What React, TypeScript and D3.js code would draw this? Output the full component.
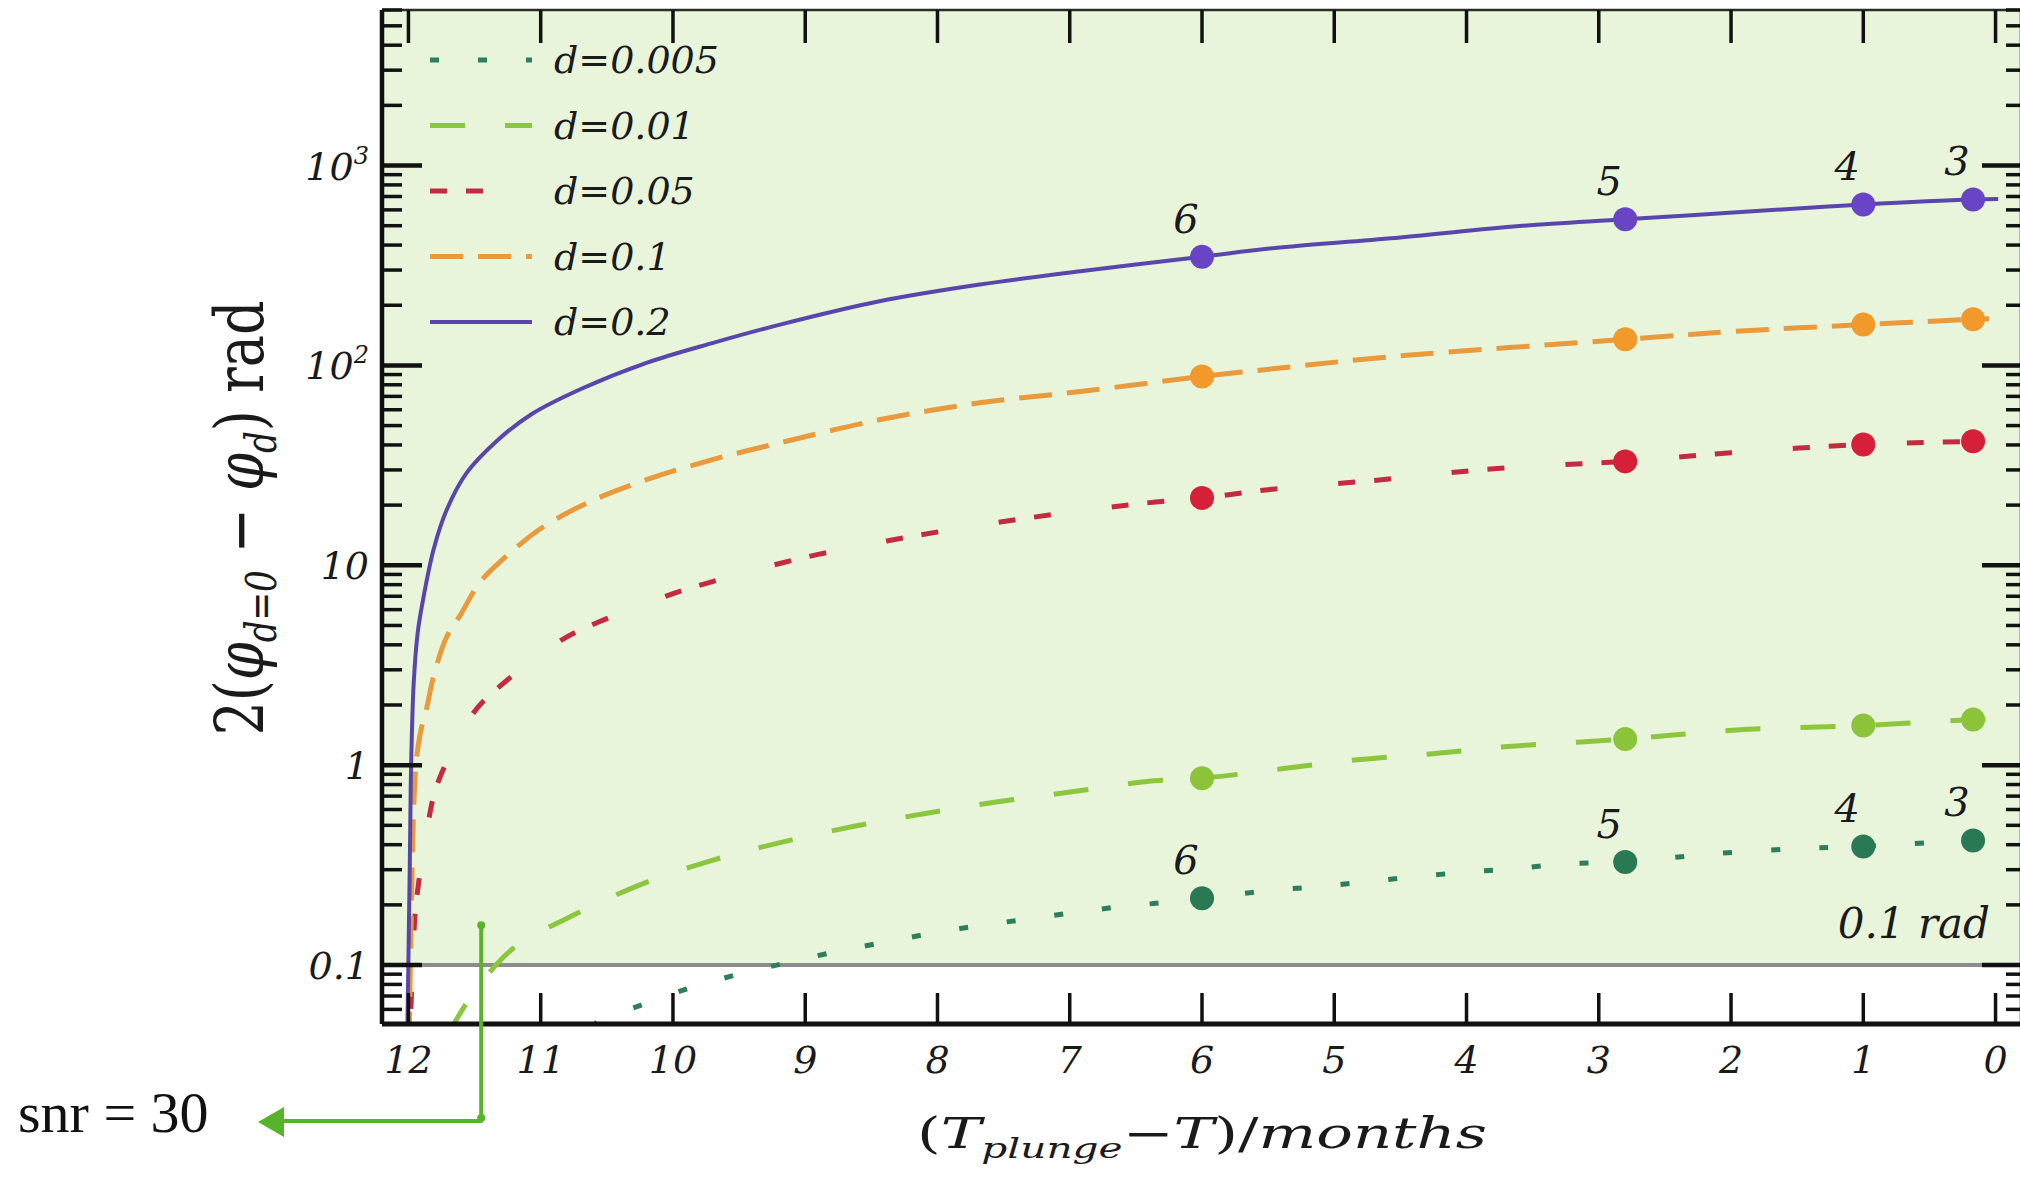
import React from 'react';
import * as d3 from 'd3';

// [months before plunge, 2(phi_d=0 - phi_d) in rad]
const d0005 = [
  [10.62, 0.048], [10.56, 0.0526], [10.24, 0.063], [9.88, 0.0765], [9.53, 0.089], [9.16, 0.102],
  [8.81, 0.115], [8.43, 0.129], [8.07, 0.143], [7.7, 0.157], [7.34, 0.169], [6.97, 0.183],
  [6.61, 0.196], [6.24, 0.207], [6.0, 0.216], [5.48, 0.236], [5.12, 0.247], [4.75, 0.261],
  [4.38, 0.277], [3.99, 0.292], [3.63, 0.304], [3.25, 0.321], [2.8, 0.328], [2.14, 0.36],
  [1.39, 0.385], [1.0, 0.392], [0.17, 0.42], [0.05, 0.42],
];
const d001 = [
  [11.7, 0.045], [11.64, 0.053], [11.51, 0.072], [11.21, 0.121], [10.75, 0.178], [10.25, 0.252],
  [9.69, 0.336], [9.19, 0.41], [8.64, 0.493], [8.08, 0.575], [7.53, 0.658], [6.97, 0.738],
  [6.42, 0.828], [6.0, 0.86], [4.85, 1.06], [4.2, 1.15], [3.69, 1.24], [2.8, 1.35],
  [1.96, 1.5], [1.0, 1.58], [0.17, 1.69], [0.05, 1.7],
];
const d005 = [
  [11.99, 0.04], [11.96, 0.139], [11.94, 0.21], [11.85, 0.52], [11.78, 0.81], [11.51, 1.82],
  [11.31, 2.48], [10.84, 4.24], [10.58, 5.14], [10.02, 7.13], [9.74, 8.15], [9.17, 10.3],
  [8.91, 11.3], [8.18, 14], [7.3, 17.3], [6.42, 20.5], [6.0, 21.7], [5.5, 23.9], [4.64, 26.8],
  [3.77, 30.5], [2.8, 33.1], [2.0, 36.6], [1.0, 40.2], [0.17, 41.7], [0.05, 42],
];
const d01 = [
  [11.995, 0.04], [11.96, 0.62], [11.94, 1.06], [11.91, 1.45], [11.86, 1.96], [11.81, 2.78],
  [11.71, 4.4], [11.61, 5.6], [11.46, 8.2], [11.26, 11.1], [11.01, 15.1], [10.65, 20.5],
  [10.2, 26.8], [9.7, 33.8], [9.19, 41], [8.43, 53.6], [7.68, 65], [6.92, 74], [6.0, 88],
  [5.41, 97], [4.54, 111], [2.8, 135], [1.97, 148], [1.0, 160], [0.17, 170], [0.05, 171],
];
const d02 = [
  [12.01, 0.04], [11.99, 0.31], [11.98, 0.98], [11.96, 2.6], [11.93, 4.6], [11.89, 6.7],
  [11.81, 12], [11.71, 19], [11.56, 29], [11.33, 42], [11.07, 57], [10.7, 76], [10.2, 103],
  [9.69, 130], [9.19, 160], [8.43, 210], [7.68, 254], [6.92, 296], [6.0, 350], [5.41, 389],
  [4.5, 437], [3.6, 498], [2.8, 538], [1.81, 592], [1.0, 639], [0.17, 677], [-0.02, 680],
];

const seriesNames = ['d=0.005', 'd=0.01', 'd=0.05', 'd=0.1', 'd=0.2'];
const seriesData = [d0005, d001, d005, d01, d02];

const markerMonths = [6, 2.8, 1, 0.17];
const markerLabels = ['6', '5', '4', '3'];
const labelledSeries = ['d=0.005', 'd=0.2'];

const xTickValues = [12, 11, 10, 9, 8, 7, 6, 5, 4, 3, 2, 1, 0];
const yMajorValues = [0.1, 1, 10, 100, 1000];
const yMajorBase = ['0.1', '1', '10', '10', '10'];
const yMajorSup = ['', '', '', '2', '3'];

const styles = [
  { line: '#2f7e5b', dot: '#2a7955', dash: '9 39', width: 5 },
  { line: '#8cc63f', dot: '#8bc43a', dash: '35 40', width: 5 },
  { line: '#c42a40', dot: '#d6203a', dash: '17 19 17 61', width: 5 },
  { line: '#e89a3c', dot: '#f2992c', dash: '33 15', width: 5 },
  { line: '#5846ad', dot: '#6944c6', dash: null, width: 4 },
];

const serif = "'DejaVu Serif', serif";

export default function App() {
  const W = 2020;
  const H = 1178;
  const left = 382, right = 2022, top = 10, bottom = 1024;

  const x = d3.scaleLinear().domain([12.2, -0.2]).range([left, right]);
  const y = d3.scaleLog().domain([0.0507, 6000]).range([bottom, top]);

  const line = d3.line<number[]>()
    .x(d => x(d[0]))
    .y(d => y(d[1]))
    .curve(d3.curveCatmullRom.alpha(0.5));

  const yAll = y.ticks(60).filter(v => v >= 0.0507 && v <= 6000);
  const isMajor = (v: number) => yMajorValues.some(m => Math.abs(m - v) / m < 1e-6);

  const snrMonth = 11.45;
  const snrTop = 0.158;

  return (
    <svg width={W} height={H} style={{ position: 'absolute', left: 0, top: 0, display: 'block', background: '#fff' }}>
      <defs>
        <clipPath id="plot">
          <rect x={left} y={top} width={right - left} height={bottom - top} />
        </clipPath>
      </defs>

      {/* detectable region above 0.1 rad */}
      <rect x={left} y={top} width={right - left} height={y(0.1) - top} fill="#e8f5da" />
      <line x1={left} x2={right} y1={y(0.1)} y2={y(0.1)} stroke="#8c8c8c" strokeWidth={4} />
      <text x={1990} y={938} textAnchor="end" fontFamily={serif} fontStyle="italic" fontSize={42} fill="#1a1a1a">0.1 rad</text>

      {/* curves */}
      <g clipPath="url(#plot)">
        {seriesData.map((data, i) => (
          <path key={seriesNames[i]} d={line(data) || ''} fill="none"
            stroke={styles[i].line} strokeWidth={styles[i].width}
            strokeDasharray={styles[i].dash || undefined} />
        ))}
        {seriesData.map((data, i) =>
          markerMonths.map(m => {
            const p = data.find(d => Math.abs(d[0] - m) < 1e-6);
            if (!p) return null;
            return <circle key={seriesNames[i] + m} cx={x(p[0])} cy={y(p[1])} r={12} fill={styles[i].dot} />;
          })
        )}
      </g>

      {/* marker labels */}
      {seriesData.map((data, i) => labelledSeries.includes(seriesNames[i]) &&
        markerMonths.map((m, j) => {
          const p = data.find(d => Math.abs(d[0] - m) < 1e-6);
          if (!p) return null;
          return (
            <text key={'lab' + i + j} x={x(p[0]) - 16} y={y(p[1]) - 24} textAnchor="middle"
              fontFamily={serif} fontStyle="italic" fontSize={40} fill="#1a1a1a">{markerLabels[j]}</text>
          );
        })
      )}

      {/* frame */}
      <line x1={left} x2={right} y1={top} y2={top} stroke="#2b2f26" strokeWidth={2.5} />
      <line x1={left} x2={right} y1={bottom} y2={bottom} stroke="#111" strokeWidth={5} />
      <line x1={left} x2={left} y1={top} y2={bottom} stroke="#111" strokeWidth={4.5} />
      <line x1={right} x2={right} y1={top} y2={bottom} stroke="#111" strokeWidth={4.5} />

      {/* x ticks */}
      {xTickValues.map(t => (
        <g key={'xt' + t}>
          <line x1={x(t)} x2={x(t)} y1={top} y2={top + 33} stroke="#111" strokeWidth={3.5} />
          <line x1={x(t)} x2={x(t)} y1={bottom} y2={bottom - 31} stroke="#111" strokeWidth={3.5} />
          <text x={x(t)} y={1073} textAnchor="middle" fontFamily={serif} fontStyle="italic"
            fontSize={38} fill="#1a1a1a">{t}</text>
        </g>
      ))}

      {/* y ticks */}
      {yAll.map(v => {
        const major = isMajor(v);
        const len = major ? 40 : 20;
        return (
          <g key={'yt' + v}>
            <line x1={left} x2={left + len} y1={y(v)} y2={y(v)} stroke="#111" strokeWidth={major ? 4.5 : 3.5} />
            <line x1={right} x2={right - (major ? 40 : 16)} y1={y(v)} y2={y(v)} stroke="#111" strokeWidth={major ? 4.5 : 3.5} />
          </g>
        );
      })}
      {yMajorValues.map((v, i) => (
        <text key={'yl' + v} x={369} y={y(v) + 14} textAnchor="end" fontFamily={serif} fontStyle="italic"
          fontSize={38} fill="#1a1a1a">
          {yMajorBase[i]}
          {yMajorSup[i] && <tspan fontSize={24} dy={-16}>{yMajorSup[i]}</tspan>}
        </text>
      ))}

      {/* legend */}
      {seriesNames.map((name, i) => {
        const ly = 60 + i * 65.5;
        return (
          <g key={'lg' + name}>
            <line x1={430} x2={532} y1={ly} y2={ly} stroke={styles[i].line} strokeWidth={styles[i].width}
              strokeDasharray={styles[i].dash || undefined} />
            <text x={554} y={ly + 13} fontFamily={serif} fontStyle="italic" fontSize={38} fill="#1a1a1a">
              {name}
            </text>
          </g>
        );
      })}

      {/* axis titles */}
      <text transform="translate(1202,1148) scale(1.45,1)" textAnchor="middle" fontFamily={serif}
        fontSize={42} fill="#1a1a1a">
        <tspan>(</tspan>
        <tspan fontStyle="italic">T</tspan>
        <tspan fontStyle="italic" fontSize={28} dy={10}>plunge</tspan>
        <tspan dy={-10}>−</tspan>
        <tspan fontStyle="italic">T</tspan>
        <tspan>)/</tspan>
        <tspan fontStyle="italic">months</tspan>
      </text>
      <text transform="translate(263,518) rotate(-90) scale(1,1.25)" textAnchor="middle" fontFamily={serif}
        fontSize={54} fill="#1a1a1a">
        <tspan>2(</tspan>
        <tspan fontStyle="italic">φ</tspan>
        <tspan fontStyle="italic" fontSize={34} dy={10}>d=0</tspan>
        <tspan dy={-10}> − </tspan>
        <tspan fontStyle="italic">φ</tspan>
        <tspan fontStyle="italic" fontSize={34} dy={10}>d</tspan>
        <tspan dy={-10}>)  rad</tspan>
      </text>

      {/* snr annotation */}
      <g stroke="#57b42a" strokeWidth={4} fill="none" strokeLinecap="round" strokeLinejoin="round">
        <path d={`M${x(snrMonth)},${y(snrTop)} L${x(snrMonth)},1121 L282,1121`} />
      </g>
      <circle cx={x(snrMonth)} cy={y(snrTop)} r={4} fill="#57b42a" />
      <circle cx={x(snrMonth)} cy={1118} r={4} fill="#57b42a" />
      <polygon points="258,1122 284,1107 284,1137" fill="#57b42a" />
      <text x={18} y={1132} fontFamily="'Liberation Serif', serif" fontSize={58} fill="#111">snr = 30</text>
    </svg>
  );
}
